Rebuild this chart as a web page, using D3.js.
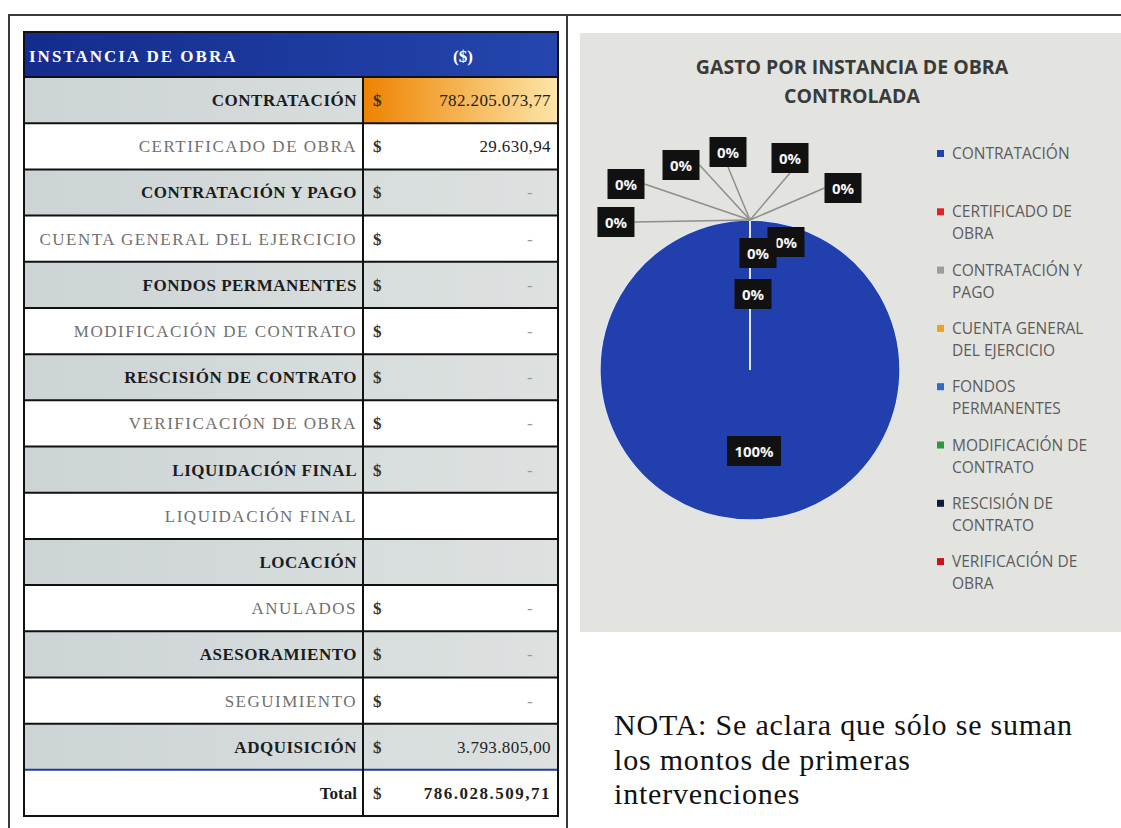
<!DOCTYPE html>
<html>
<head>
<meta charset="utf-8">
<script src="https://cdn.jsdelivr.net/npm/d3@7"></script>
<style>
  body { margin: 0; background: #fff; }
  svg { display: block; }
</style>
</head>
<body>
<div id="chart"></div>
<script>
// table rows (same order as the sheet)
var instancias = ["CONTRATACIÓN", "CERTIFICADO DE OBRA", "CONTRATACIÓN Y PAGO",
  "CUENTA GENERAL DEL EJERCICIO", "FONDOS PERMANENTES", "MODIFICACIÓN DE CONTRATO",
  "RESCISIÓN DE CONTRATO", "VERIFICACIÓN DE OBRA", "LIQUIDACIÓN FINAL", "LIQUIDACIÓN FINAL",
  "LOCACIÓN", "ANULADOS", "ASESORAMIENTO", "SEGUIMIENTO", "ADQUISICIÓN"];
// null = empty cell, 0 = "$ -"
var montos = [782205073.77, 29630.94, 0, 0, 0, 0, 0, 0, 0, null, null, 0, 0, 0, 3793805.00];

// the pie only takes the first ten instancias
var pieCount = 10;
var sliceColors = ["#2140ad", "#e0202a", "#9c9c9c", "#f0a024", "#2e6cc6",
  "#2a9a3c", "#141a3c", "#c2181c", "#7a5cb0", "#2aa6c0"];
// legend (wrapped as in the picture; only eight fit)
var legendItems = [["CONTRATACIÓN"], ["CERTIFICADO DE", "OBRA"], ["CONTRATACIÓN Y", "PAGO"],
  ["CUENTA GENERAL", "DEL EJERCICIO"], ["FONDOS", "PERMANENTES"], ["MODIFICACIÓN DE", "CONTRATO"],
  ["RESCISIÓN DE", "CONTRATO"], ["VERIFICACIÓN DE", "OBRA"]];

var chartTitle = ["GASTO POR INSTANCIA DE OBRA", "CONTROLADA"];
var nota = ["NOTA: Se aclara que sólo se suman", "los montos de primeras", "intervenciones"];

var svgWidth = 1121;
var svgHeight = 828;

var svg = d3.select("#chart")
  .append("svg")
  .attr("width", svgWidth)
  .attr("height", svgHeight);

var es = d3.formatLocale({decimal: ",", thousands: ".", grouping: [3], currency: ["$", ""]});
var money = es.format(",.2f");
var pct = d3.format(".0%");

var defs = svg.append("defs");
function grad(id, c1, c2) {
  var g = defs.append("linearGradient").attr("id", id);
  g.append("stop").attr("offset", "0%").attr("stop-color", c1);
  g.append("stop").attr("offset", "100%").attr("stop-color", c2);
}
grad("hdr", "#142c8c", "#2446ae");
grad("orange", "#ee8200", "#fde6a8");
grad("grey", "#cdd4d6", "#dde1e0");

// outer frame lines
svg.append("path")
  .attr("d", "M9,828 V15 H1121 M567,15 V828")
  .attr("fill", "none")
  .attr("stroke", "#3a3a3a")
  .attr("stroke-width", 2);

// ---------- table ----------
var tLeft = 24, tRight = 558, tSplit = 363, tTop = 32, hdrBottom = 77, tBottom = 816;
var rows = instancias.map(function(d, i) { return {name: d, value: montos[i], total: false}; });
rows.push({name: "Total", value: d3.sum(montos), total: true});

var y = d3.scaleBand()
  .domain(d3.range(rows.length))
  .range([hdrBottom, tBottom]);

var table = svg.append("g");

table.append("rect")
  .attr("x", tLeft).attr("y", tTop)
  .attr("width", tRight - tLeft).attr("height", hdrBottom - tTop)
  .attr("fill", "url(#hdr)");

table.append("text")
  .attr("x", tLeft + 5).attr("y", 62)
  .attr("font-family", "Liberation Serif")
  .attr("font-weight", "bold")
  .attr("font-size", "17px")
  .attr("letter-spacing", "2px")
  .attr("fill", "#fff")
  .text("INSTANCIA DE OBRA");

table.append("text")
  .attr("x", 463).attr("y", 62)
  .attr("text-anchor", "middle")
  .attr("font-family", "Liberation Serif")
  .attr("font-weight", "bold")
  .attr("font-size", "17px")
  .attr("fill", "#fff")
  .text("($)");

var rowG = table.selectAll("g.row")
  .data(rows)
  .enter()
  .append("g")
  .attr("class", "row")
  .attr("transform", (d, i) => `translate(0, ${y(i)})`);

var h = y.bandwidth();
var strong = (d, i) => i % 2 === 0 || d.total;

rowG.append("rect")
  .attr("x", tLeft).attr("width", tRight - tLeft).attr("height", h)
  .attr("fill", (d, i) => (i % 2 === 0 && !d.total) ? "url(#grey)" : "#fff");

// highlighted amount
rowG.filter((d, i) => i === 0)
  .append("rect")
  .attr("x", tSplit).attr("width", tRight - tSplit).attr("height", h)
  .attr("fill", "url(#orange)");

rowG.append("text")
  .attr("x", tSplit - 6)
  .attr("y", h / 2 + 6)
  .attr("text-anchor", "end")
  .attr("font-family", "Liberation Serif")
  .attr("font-size", "17px")
  .attr("font-weight", (d, i) => strong(d, i) ? "bold" : "normal")
  .attr("letter-spacing", (d, i) => d.total ? "0px" : (strong(d, i) ? "0.5px" : "1.5px"))
  .attr("fill", (d, i) => strong(d, i) ? "#1c1c1c" : "#707070")
  .text(d => d.name);

rowG.filter(d => d.value !== null)
  .append("text")
  .attr("x", 373)
  .attr("y", h / 2 + 6)
  .attr("font-family", "Liberation Serif")
  .attr("font-size", "17px")
  .attr("font-weight", "bold")
  .attr("fill", "#333")
  .text("$");

rowG.filter(d => d.value !== null)
  .append("text")
  .attr("x", d => d.value === 0 ? 530 : 551)
  .attr("y", h / 2 + 6)
  .attr("text-anchor", d => d.value === 0 ? "middle" : "end")
  .attr("font-family", "Liberation Serif")
  .attr("font-size", "17px")
  .attr("font-weight", d => d.total ? "bold" : "normal")
  .attr("letter-spacing", d => d.total ? "1.5px" : "0.4px")
  .attr("fill", d => d.value === 0 ? "#999" : "#1e1e1e")
  .text(d => d.value === 0 ? "-" : money(d.value));

// grid lines
rows.forEach(function(d, i) {
  if (i === 0) return;
  table.append("line")
    .attr("x1", tLeft).attr("x2", tRight)
    .attr("y1", y(i)).attr("y2", y(i))
    .attr("stroke", d.total ? "#1f3aa0" : "#111")
    .attr("stroke-width", 2);
});
table.append("line")
  .attr("x1", tLeft).attr("x2", tRight)
  .attr("y1", hdrBottom).attr("y2", hdrBottom)
  .attr("stroke", "#111").attr("stroke-width", 2);
table.append("line")
  .attr("x1", tSplit).attr("x2", tSplit)
  .attr("y1", hdrBottom).attr("y2", tBottom)
  .attr("stroke", "#111").attr("stroke-width", 2);
table.append("rect")
  .attr("x", tLeft).attr("y", tTop)
  .attr("width", tRight - tLeft).attr("height", tBottom - tTop)
  .attr("fill", "none")
  .attr("stroke", "#111").attr("stroke-width", 2);

// ---------- pie chart ----------
var panel = svg.append("g");
panel.append("rect")
  .attr("x", 580).attr("y", 33)
  .attr("width", svgWidth - 580).attr("height", 599)
  .attr("fill", "#e3e3e0");

panel.selectAll("text.title")
  .data(chartTitle)
  .enter()
  .append("text")
  .attr("class", "title")
  .attr("x", 852)
  .attr("y", (d, i) => 74 + i * 29)
  .attr("text-anchor", "middle")
  .attr("font-family", "Open Sans")
  .attr("font-weight", "bold")
  .attr("font-size", "19.5px")
  .attr("fill", "#3a3a3a")
  .text(d => d);

var pieData = instancias.slice(0, pieCount).map(function(d, i) {
  return {name: d, value: montos[i] || 0, color: sliceColors[i]};
});
var pieTotal = d3.sum(pieData, d => d.value);

var radius = 150;
var pieG = panel.append("g")
  .attr("transform", "translate(750, 370)");

var arcs = d3.pie()
  .sort(null)
  .value(d => d.value)(pieData);

var arc = d3.arc().innerRadius(0).outerRadius(radius);
var labelArc = d3.arc().innerRadius(radius * 0.5).outerRadius(radius * 0.5);

pieG.selectAll("path")
  .data(arcs)
  .enter()
  .append("path")
  .attr("d", arc)
  .attr("fill", d => d.data.color)
  .attr("stroke", "#dfe7f6")
  .attr("stroke-width", 1.4);

// label spots for the zero slices, relative to where they touch the rim
var labelSpots = [
  {dx: -134, dy: 2, lead: true},
  {dx: -124, dy: -36, lead: true},
  {dx: -69, dy: -55, lead: true},
  {dx: -22, dy: -68, lead: true},
  {dx: 40, dy: -62, lead: true},
  {dx: 93, dy: -32, lead: true},
  {dx: 36, dy: 22, lead: false},
  {dx: 8, dy: 33, lead: false},
  {dx: 3, dy: 74, lead: false}
];

var zeroArcs = arcs.filter(d => d.data.value / pieTotal < 0.005);
var bigArcs = arcs.filter(d => d.data.value / pieTotal >= 0.005);
var bw = 37, bh = 30;

zeroArcs.forEach(function(d, i) {
  var rim = d3.pointRadial(d.startAngle, radius);
  var spot = labelSpots[i];
  var cx = rim[0] + spot.dx, cy = rim[1] + spot.dy;
  if (spot.lead) {
    var ex = cx, ey = cy;
    if (Math.abs(spot.dx) > 60) ex = cx - Math.sign(spot.dx) * bw / 2;
    else ey = cy + bh / 2;
    pieG.append("line")
      .attr("x1", rim[0]).attr("y1", rim[1])
      .attr("x2", ex).attr("y2", ey)
      .attr("stroke", "#8e8e8a")
      .attr("stroke-width", 1.5);
  }
  d.box = [cx, cy];
});

function labelBox(cx, cy, w, txt) {
  pieG.append("rect")
    .attr("x", cx - w / 2).attr("y", cy - bh / 2)
    .attr("width", w).attr("height", bh)
    .attr("fill", "#111");
  pieG.append("text")
    .attr("x", cx).attr("y", cy + 5.5)
    .attr("text-anchor", "middle")
    .attr("font-family", "Open Sans")
    .attr("font-weight", "bold")
    .attr("font-size", "15px")
    .attr("fill", "#f4f4f4")
    .text(txt);
}

zeroArcs.forEach(function(d) {
  labelBox(d.box[0], d.box[1], bw, pct(d.data.value / pieTotal));
});
bigArcs.forEach(function(d) {
  var c = labelArc.centroid(d);
  labelBox(c[0] + 4, c[1] + 6, 54, pct(d.data.value / pieTotal));
});

// legend
var legend = panel.selectAll("g.legend")
  .data(legendItems)
  .enter()
  .append("g")
  .attr("class", "legend")
  .attr("transform", (d, i) => `translate(937, ${159 + i * 58.3})`);

legend.append("rect")
  .attr("y", -9).attr("width", 7).attr("height", 7)
  .attr("fill", (d, i) => sliceColors[i]);

legend.selectAll("text")
  .data(d => d)
  .enter()
  .append("text")
  .attr("x", 15)
  .attr("y", (d, j) => j * 22)
  .attr("font-family", "Open Sans")
  .attr("font-size", "15.5px")
  .attr("fill", "#5c5c5c")
  .text(d => d);

// note under the chart
svg.selectAll("text.nota")
  .data(nota)
  .enter()
  .append("text")
  .attr("class", "nota")
  .attr("x", 614)
  .attr("y", (d, i) => 735 + i * 34.5)
  .attr("font-family", "Liberation Serif")
  .attr("font-size", "30px")
  .attr("letter-spacing", "0.8px")
  .attr("fill", "#111")
  .text(d => d);
</script>
</body>
</html>
